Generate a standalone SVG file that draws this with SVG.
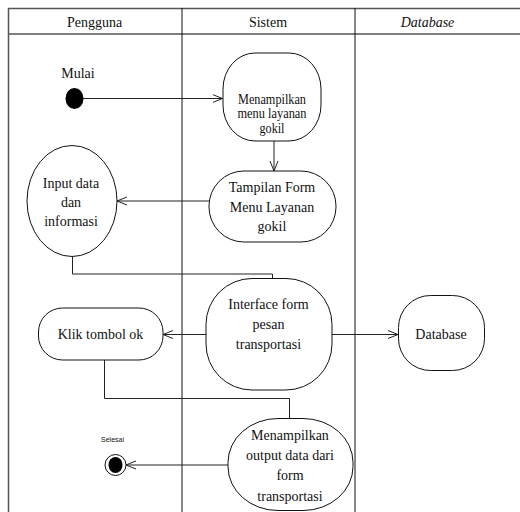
<svg xmlns="http://www.w3.org/2000/svg" width="520" height="512" viewBox="0 0 520 512">
  <style>
    .frame { fill: none; stroke: #555; stroke-width: 1.5; }
    .lane { fill: none; stroke: #111; stroke-width: 1; }
    .node { fill: #fff; stroke: #111; stroke-width: 1; }
    .conn { fill: none; stroke: #222; stroke-width: 1; }
    text { font-family: "Liberation Serif", "Times New Roman", serif; font-size: 14px; fill: #111; text-anchor: middle; }
    .lbl { font-family: "Liberation Sans", Arial, sans-serif; font-size: 7px; }
  </style>
  <defs>
    <marker id="open" viewBox="0 0 10 10" refX="10" refY="5" markerWidth="10" markerHeight="10" markerUnits="userSpaceOnUse" orient="auto">
      <path d="M0,1 L10,5 L0,9" fill="none" stroke="#222" stroke-width="1"/>
    </marker>
  </defs>

  <rect width="520" height="512" fill="#fff"/>

  <!-- swimlane frame -->
  <g id="lanes">
    <line class="frame" x1="8" y1="8.5" x2="520" y2="8.5"/>
    <line class="frame" x1="8" y1="34" x2="520" y2="34"/>
    <line class="frame" x1="8.5" y1="8" x2="8.5" y2="512"/>
    <line class="lane" x1="182" y1="8" x2="182" y2="512"/>
    <line class="lane" x1="355" y1="8" x2="355" y2="512"/>
    <text x="94.5" y="27">Pengguna</text>
    <text x="268" y="27">Sistem</text>
    <text x="427.5" y="27" font-style="italic">Database</text>
  </g>

  <!-- connectors -->
  <g id="connectors">
    <line class="conn" x1="83" y1="98.5" x2="222.5" y2="98.5" marker-end="url(#open)"/>
    <line class="conn" x1="274" y1="141" x2="274" y2="171" marker-end="url(#open)"/>
    <line class="conn" x1="209" y1="201" x2="117" y2="201" marker-end="url(#open)"/>
    <polyline class="conn" points="72.5,257 72.5,274 272.5,274 272.5,278.5"/>
    <line class="conn" x1="206" y1="334.5" x2="163" y2="334.5" marker-end="url(#open)"/>
    <line class="conn" x1="332" y1="334.5" x2="398" y2="334.5" marker-end="url(#open)"/>
    <polyline class="conn" points="104.5,360 104.5,398.5 289.5,398.5 289.5,418.5"/>
    <line class="conn" x1="228" y1="465" x2="126" y2="465" marker-end="url(#open)"/>
  </g>

  <g id="start">
    <text x="78" y="78">Mulai</text>
    <ellipse cx="74.5" cy="98.5" rx="9" ry="10.5" fill="#000"/>
  </g>

  <g id="menu-layanan">
    <rect class="node" x="223" y="53" width="98" height="88" rx="32" ry="36"/>
    <!-- narrower lettering to fit the smaller node -->
    <text x="272" y="103.5" textLength="68" lengthAdjust="spacingAndGlyphs">Menampilkan</text>
    <text x="272" y="118" textLength="69" lengthAdjust="spacingAndGlyphs">menu layanan</text>
    <text x="272" y="132.5" textLength="25" lengthAdjust="spacingAndGlyphs">gokil</text>
  </g>

  <g id="tampilan-form">
    <rect class="node" x="209" y="171" width="127" height="71" rx="35" ry="35"/>
    <text x="272" y="191.5">Tampilan Form</text>
    <text x="272" y="211.5">Menu Layanan</text>
    <text x="272" y="231">gokil</text>
  </g>

  <g id="input-data">
    <ellipse class="node" cx="72" cy="201" rx="45" ry="55.5"/>
    <text x="71" y="187.5">Input data</text>
    <text x="71" y="206.5">dan</text>
    <text x="71" y="226">informasi</text>
  </g>

  <g id="interface-form">
    <rect class="node" x="206" y="278.5" width="126" height="111.5" rx="46" ry="46"/>
    <text x="268.5" y="308.5">Interface form</text>
    <text x="268.5" y="328.5">pesan</text>
    <text x="268.5" y="348.5">transportasi</text>
  </g>

  <g id="klik-ok">
    <rect class="node" x="38.5" y="308" width="124.5" height="52" rx="24" ry="24"/>
    <text x="100.5" y="339">Klik tombol ok</text>
  </g>

  <g id="database">
    <rect class="node" x="398.5" y="295.5" width="86" height="75" rx="32" ry="32"/>
    <text x="441" y="339">Database</text>
  </g>

  <g id="output-data">
    <rect class="node" x="228" y="418.5" width="125" height="92" rx="50" ry="44"/>
    <text x="290" y="440">Menampilkan</text>
    <text x="290" y="460">output data dari</text>
    <text x="290" y="480">form</text>
    <text x="290" y="500.5">transportasi</text>
  </g>

  <g id="end">
    <text class="lbl" x="112.5" y="442">Selesai</text>
    <circle cx="115.5" cy="465" r="10.5" fill="#fff" stroke="#111" stroke-width="1"/>
    <ellipse cx="115.5" cy="465" rx="7" ry="8" fill="#000"/>
  </g>
</svg>
